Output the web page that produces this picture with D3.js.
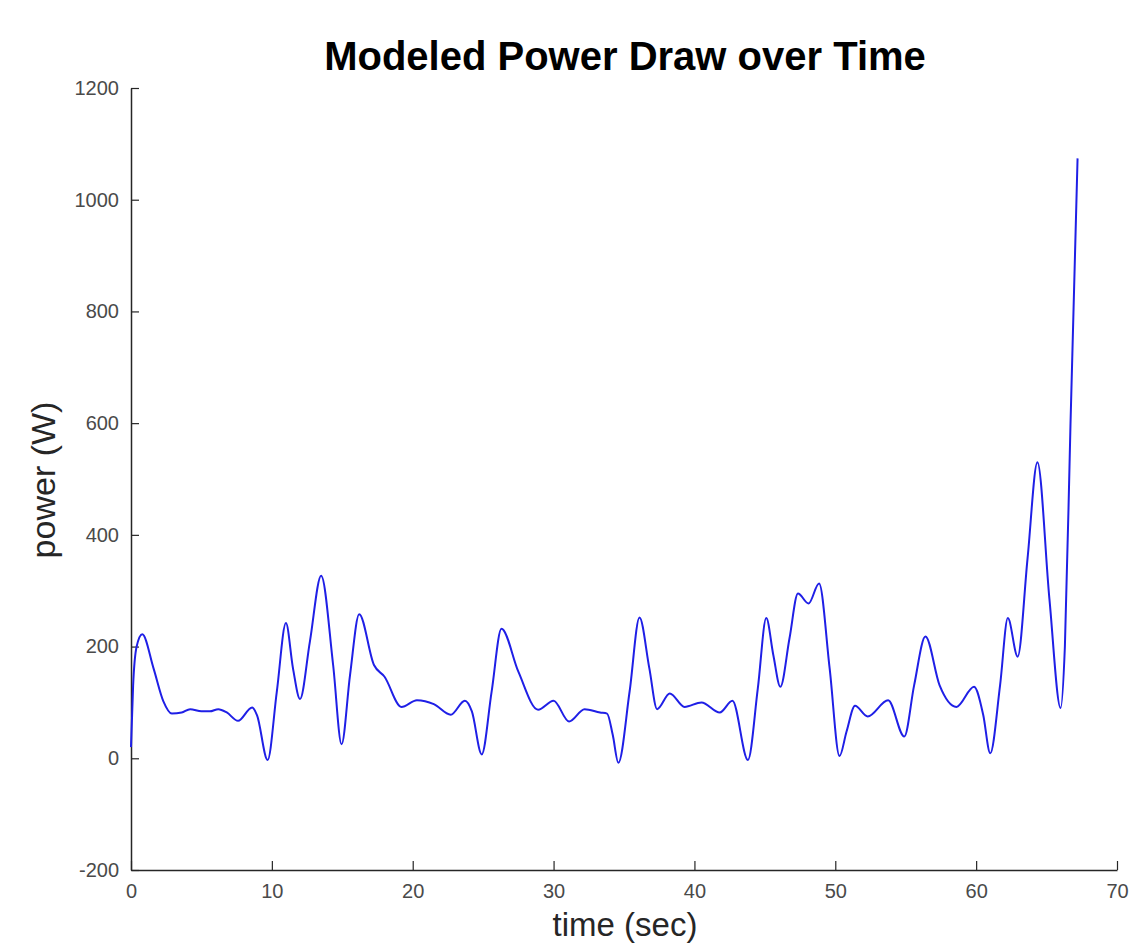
<!DOCTYPE html>
<html>
<head>
    <meta charset="utf-8">
    <script src="https://d3js.org/d3.v7.min.js"></script>
    <style>
        body { margin: 0; background: #fff; }
        text { font-family: "Liberation Sans", Arial, Helvetica, sans-serif; }
    </style>
</head>
<body>
	<svg id="chart" width="1130" height="947"></svg>
	<script>
		// time (sec) and modeled power (W)
		var time = [0, 0.15, 0.4, 0.8, 1.6, 2.3, 2.9, 3.6, 4.2, 5.0, 5.6, 6.2, 6.8, 7.6, 8.6, 8.95, 9.7,
			10.35, 11.0, 11.5, 12.0, 12.7, 13.5, 14.35, 14.95, 15.55, 16.2, 17.25, 18.0, 19.2, 20.3, 21.5,
			22.7, 23.7, 24.2, 24.9, 25.6, 26.3, 27.5, 28.9, 30.0, 31.1, 32.2, 33.3, 33.8, 34.2, 34.6, 35.4,
			36.1, 36.8, 37.35, 38.25, 39.3, 40.5, 41.8, 42.7, 43.8, 44.5, 45.1, 45.6, 46.1, 46.75, 47.35,
			48.1, 48.85, 49.6, 50.3, 50.8, 51.4, 52.3, 53.75, 54.9, 55.6, 56.4, 57.4, 58.6, 59.85, 60.5,
			61.0, 61.7, 62.25, 62.95, 63.65, 64.35, 65.2, 66.0, 66.3, 66.7, 67.2];
		var power = [20, 130, 200, 222, 161, 102, 80, 82, 88, 84, 84, 88, 82, 67, 91, 77, -3,
			119, 242, 161, 106, 209, 327, 167, 25, 149, 258, 167, 146, 92, 104, 97,
			78, 103, 84, 7, 119, 232, 155, 87, 103, 66, 88, 82, 80, 42, -8, 120,
			252, 161, 88, 116, 92, 100, 82, 103, -3, 125, 251, 185, 128, 215, 295,
			277, 313, 161, 4, 48, 94, 75, 104, 39, 131, 218, 131, 92, 128, 78,
			9, 131, 251, 182, 358, 530, 286, 90, 200, 600, 1074];

		var xTicks = [0, 10, 20, 30, 40, 50, 60, 70];
		var yTicks = [-200, 0, 200, 400, 600, 800, 1000, 1200];

		var svg = d3.select("#chart");

		var x = d3.scaleLinear().domain([0, 70]).range([131, 1117]);
		var y = d3.scaleLinear().domain([-200, 1200]).range([870, 88]);

		var data = time.map(function(t, i) { return {t: t, p: power[i]}; });

		// axes, MATLAB style: ticks inside, no box
		var plain = function(d) { return String(d); };
		var xAxis = svg.append("g")
			.attr("transform", "translate(0," + y(-200) + ")")
			.call(d3.axisBottom(x).tickValues(xTicks).tickFormat(plain).tickSize(-9).tickSizeOuter(0).tickPadding(14));
		var yAxis = svg.append("g")
			.attr("transform", "translate(" + x(0) + ",0)")
			.call(d3.axisLeft(y).tickValues(yTicks).tickFormat(plain).tickSize(-8).tickSizeOuter(0).tickPadding(12));

		[xAxis, yAxis].forEach(function(a) {
			a.select(".domain").attr("stroke", "#262626").attr("stroke-width", 1.5);
			a.selectAll(".tick line").attr("stroke", "#262626").attr("stroke-width", 1.2);
			a.selectAll(".tick text").attr("fill", "#4a4a4a").style("font-size", "20px");
		});

		var line = d3.line()
			.x(function(d) { return x(d.t); })
			.y(function(d) { return y(d.p); })
			.curve(d3.curveMonotoneX);

		svg.append("path")
			.datum(data)
			.attr("fill", "none")
			.attr("stroke", "#1f1fe6")
			.attr("stroke-width", 2)
			.attr("d", line);

		svg.append("text")
			.attr("x", 625)
			.attr("y", 70)
			.attr("text-anchor", "middle")
			.style("font-size", "40px")
			.style("font-weight", "bold")
			.attr("fill", "#000")
			.text("Modeled Power Draw over Time");

		svg.append("text")
			.attr("x", 625)
			.attr("y", 936)
			.attr("text-anchor", "middle")
			.style("font-size", "33px")
			.attr("fill", "#262626")
			.text("time (sec)");

		svg.append("text")
			.attr("transform", "translate(55,480) rotate(-90)")
			.attr("text-anchor", "middle")
			.style("font-size", "34px")
			.attr("fill", "#262626")
			.text("power (W)");
	</script>
</body>
</html>
